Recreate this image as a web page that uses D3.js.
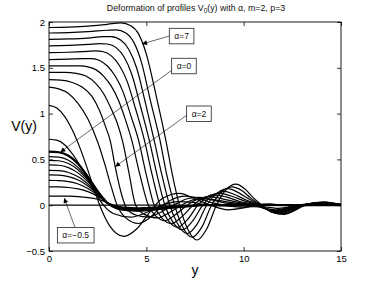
<!DOCTYPE html>
<html>
<head>
<meta charset="utf-8">
<script src="https://cdn.jsdelivr.net/npm/d3@7"></script>
<style>
html, body { margin: 0; padding: 0; background: #fff; }
svg { display: block; font-family: "Liberation Sans", Arial, Helvetica, sans-serif; }
.tick text { font-size: 9.5px; fill: #000; }
.tick line { stroke: #000; stroke-width: 0.8; }
.domain { display: none; }
</style>
</head>
<body>
<svg id="chart" width="377" height="283"></svg>
<script>
// ---- data ----
const xTicks = [0, 5, 10, 15];
const yTicks = [-0.5, 0, 0.5, 1, 1.5, 2];
const yTickLabels = ["\u22120.5", "0", "0.5", "1", "1.5", "2"];

// alpha <= 0 : bell shaped profiles, shared abscissae
const lowX = [0, 0.5, 1, 1.5, 2, 2.5, 2.75, 3, 3.5, 4, 4.5, 5, 6, 7, 8, 10, 12, 15];
const lowProfiles = [
    [0.10, 0.10, 0.098, 0.093, 0.083, 0.065, 0.05, 0.025, -0.01, -0.024, -0.028, -0.025, -0.015, -0.006, 0, 0.001, 0, 0],
    [0.20, 0.199, 0.193, 0.178, 0.148, 0.098, 0.064, 0.025, -0.018, -0.032, -0.036, -0.032, -0.02, -0.008, 0, 0.002, 0, 0],
    [0.27, 0.269, 0.258, 0.232, 0.183, 0.112, 0.07, 0.025, -0.022, -0.037, -0.041, -0.037, -0.023, -0.009, 0, 0.002, 0, 0],
    [0.33, 0.328, 0.312, 0.275, 0.21, 0.122, 0.074, 0.025, -0.025, -0.041, -0.045, -0.041, -0.026, -0.01, 0, 0.002, 0, 0],
    [0.38, 0.377, 0.357, 0.31, 0.23, 0.13, 0.077, 0.025, -0.027, -0.044, -0.048, -0.044, -0.028, -0.011, 0, 0.003, 0, 0],
    [0.44, 0.436, 0.41, 0.35, 0.255, 0.14, 0.08, 0.025, -0.029, -0.047, -0.051, -0.047, -0.03, -0.012, 0, 0.003, 0, 0],
    [0.49, 0.485, 0.455, 0.385, 0.275, 0.145, 0.082, 0.025, -0.031, -0.05, -0.054, -0.05, -0.031, -0.013, 0, 0.003, 0, 0],
    [0.53, 0.524, 0.49, 0.41, 0.29, 0.15, 0.083, 0.025, -0.033, -0.052, -0.057, -0.052, -0.033, -0.014, 0, 0.004, 0, 0],
    [0.585, 0.578, 0.54, 0.45, 0.31, 0.155, 0.085, 0.025, -0.035, -0.055, -0.06, -0.055, -0.035, -0.015, 0, 0.004, 0, 0]
];
const boldLow = 8; // alpha = 0 drawn heavier

const zeroProfile = [[0, 0], [15, 0]];

// small alpha > 0 profiles
const midProfiles = [
    [[0, 0.72], [0.4, 0.71], [0.8, 0.66], [1.2, 0.56], [1.6, 0.43], [2.0, 0.28], [2.4, 0.13], [2.8, 0.0], [3.3, -0.09], [4.2, -0.13],
     [5.0, -0.08], [5.8, 0], [6.6, 0.04], [7.4, 0.03], [8.2, 0], [9.5, -0.01], [11, 0], [15, 0]],
    [[0, 1.09], [0.4, 1.06], [0.8, 0.97], [1.2, 0.82], [1.6, 0.62], [2.0, 0.38], [2.4, 0.12], [2.7, -0.05], [3.1, -0.22], [3.85, -0.34],
     [4.5, -0.26], [5.2, -0.07], [5.8, 0.07], [6.7, 0.13], [7.5, 0.07], [8.3, 0], [9.2, -0.05], [10.0, -0.03], [10.6, 0], [11.3, 0.015],
     [12.0, 0], [12.8, -0.008], [13.5, 0], [15, 0]]
];

// flat-topped profiles, alpha up to 7
const highProfiles = [
    [[0, 1.29], [0.5, 1.27], [1.0, 1.22], [1.5, 1.11], [2.0, 0.94], [2.5, 0.69], [2.85, 0.46], [3.2, 0.2], [3.5, 0.0], [3.9, -0.13],
     [4.6, -0.2], [5.1, -0.15], [5.7, -0.03], [6.3, 0.06], [7.0, 0.1], [7.6, 0.08], [8.3, 0.03], [9.0, 0], [9.8, -0.02], [10.5, -0.015],
     [11.2, -0.02], [11.7, -0.035], [12.3, -0.02], [12.8, 0], [13.5, 0.01], [14.2, 0.012], [15, 0.004]],
    [[0, 1.37], [0.6, 1.365], [1.2, 1.34], [1.7, 1.29], [2.2, 1.19], [2.6, 1.03], [2.9, 0.86], [3.15, 0.7], [3.4, 0.42], [3.75, 0.1],
     [4.0, -0.04], [4.5, -0.11], [5.1, -0.13], [5.6, -0.09], [6.4, 0], [7.1, 0.07], [7.7, 0.085], [8.3, 0.06], [9.2, 0.02], [10.5, 0],
     [11.1, -0.035], [11.65, -0.05], [12.2, -0.03], [12.8, 0], [13.4, 0.012], [13.9, 0.018], [14.7, 0.008], [15, 0.004]],
    [[0, 1.45], [0.8, 1.45], [1.4, 1.44], [1.9, 1.41], [2.4, 1.33], [2.8, 1.22], [3.2, 1.05], [3.5, 0.9], [3.8, 0.68], [4.1, 0.36],
     [4.45, 0], [4.9, -0.1], [5.6, -0.14], [6.1, -0.09], [6.8, 0], [7.45, 0.06], [8.0, 0.07], [8.6, 0.055], [9.5, 0.025], [10.6, 0],
     [11.15, -0.04], [11.7, -0.06], [12.25, -0.035], [12.85, 0], [13.4, 0.014], [13.95, 0.02], [14.7, 0.009], [15, 0.004]],
    [[0, 1.52], [1, 1.52], [1.6, 1.52], [2.0, 1.51], [2.4, 1.48], [2.8, 1.41], [3.2, 1.3], [3.6, 1.13], [3.9, 0.95], [4.25, 0.71],
     [4.65, 0.35], [5.1, 0], [5.5, -0.12], [5.95, -0.17], [6.45, -0.11], [7.1, 0], [7.75, 0.075], [8.3, 0.09], [8.9, 0.07], [9.7, 0.03],
     [10.65, 0], [11.2, -0.045], [11.75, -0.065], [12.3, -0.04], [12.9, 0], [13.45, 0.016], [14.0, 0.022], [14.7, 0.01], [15, 0.005]],
    [[0, 1.59], [1, 1.595], [1.8, 1.6], [2.2, 1.6], [2.6, 1.58], [3.0, 1.52], [3.4, 1.41], [3.8, 1.24], [4.2, 0.98], [4.6, 0.71],
     [5.0, 0.33], [5.4, 0], [5.8, -0.14], [6.3, -0.2], [6.8, -0.13], [7.4, 0], [8.05, 0.09], [8.55, 0.11], [9.1, 0.09], [9.8, 0.04],
     [10.7, 0], [11.25, -0.05], [11.8, -0.07], [12.35, -0.04], [12.95, 0], [13.5, 0.018], [14.0, 0.024], [14.7, 0.012], [15, 0.006]],
    [[0, 1.665], [1, 1.67], [2, 1.68], [2.4, 1.685], [2.8, 1.675], [3.2, 1.63], [3.6, 1.53], [4.0, 1.36], [4.45, 1.05], [4.9, 0.71],
     [5.3, 0.33], [5.7, 0], [6.1, -0.16], [6.6, -0.24], [7.1, -0.16], [7.65, 0], [8.3, 0.11], [8.8, 0.13], [9.35, 0.1], [10.0, 0.05],
     [10.75, 0], [11.3, -0.055], [11.85, -0.075], [12.4, -0.045], [13.0, 0], [13.55, 0.02], [14.05, 0.026], [14.7, 0.014], [15, 0.007]],
    [[0, 1.74], [1, 1.745], [2, 1.755], [2.6, 1.765], [3.0, 1.76], [3.45, 1.72], [3.85, 1.62], [4.25, 1.43], [4.7, 1.08], [5.15, 0.71],
     [5.55, 0.33], [5.95, 0], [6.35, -0.18], [6.85, -0.27], [7.35, -0.18], [7.9, 0], [8.5, 0.12], [9.0, 0.15], [9.5, 0.12], [10.1, 0.06],
     [10.8, 0], [11.35, -0.06], [11.9, -0.08], [12.45, -0.05], [13.05, 0], [13.6, 0.022], [14.1, 0.028], [14.7, 0.015], [15, 0.008]],
    [[0, 1.81], [1, 1.815], [2, 1.825], [2.8, 1.84], [3.2, 1.84], [3.7, 1.8], [4.1, 1.7], [4.5, 1.5], [4.95, 1.12], [5.4, 0.71],
     [5.8, 0.33], [6.2, 0], [6.6, -0.2], [7.1, -0.31], [7.6, -0.21], [8.1, 0], [8.7, 0.14], [9.2, 0.18], [9.7, 0.14], [10.25, 0.07],
     [10.85, 0], [11.4, -0.07], [11.95, -0.09], [12.5, -0.055], [13.1, 0], [13.6, 0.024], [14.1, 0.03], [14.7, 0.016], [15, 0.008]],
    [[0, 1.88], [1, 1.885], [2, 1.895], [3, 1.91], [3.45, 1.915], [3.95, 1.88], [4.35, 1.78], [4.75, 1.56], [5.2, 1.15], [5.7, 0.71],
     [6.05, 0.33], [6.45, 0], [6.85, -0.23], [7.35, -0.35], [7.85, -0.24], [8.35, 0], [8.9, 0.15], [9.4, 0.2], [9.9, 0.16], [10.35, 0.08],
     [10.9, 0], [11.45, -0.075], [12.0, -0.095], [12.55, -0.06], [13.1, 0], [13.65, 0.026], [14.15, 0.033], [14.7, 0.018], [15, 0.01]],
    [[0, 1.94], [1, 1.945], [2, 1.955], [3, 1.975], [3.7, 1.99], [4.2, 1.96], [4.6, 1.87], [5.0, 1.65], [5.5, 1.2], [6.0, 0.71],
     [6.35, 0.32], [6.7, 0], [7.1, -0.25], [7.6, -0.38], [8.1, -0.26], [8.6, 0], [9.1, 0.17], [9.6, 0.23], [10.1, 0.17], [10.5, 0.08],
     [10.95, 0], [11.5, -0.08], [12.1, -0.1], [12.6, -0.06], [13.15, 0], [13.7, 0.028], [14.2, 0.035], [14.7, 0.02], [15, 0.01]]
];

// annotations: label, box top-left, arrow start, arrow tip (data units)
const noteText = ["\u03b1=7", "\u03b1=0", "\u03b1=2", "\u03b1=\u22120.5"];
const noteBox = [[6.18, 1.931], [6.30, 1.604], [7.07, 1.083], [0.43, -0.243]];
const noteFrom = [[6.18, 1.847], [6.32, 1.476], [7.09, 0.985], [1.335, -0.243]];
const noteTip = [[4.78, 1.76], [0.58, 0.578], [3.40, 0.42], [0.78, 0.078]];

// ---- drawing ----
const W = 377, H = 283;
const m = { l: 49, r: 36, t: 22, b: 32 };
const svg = d3.select("#chart");

const x = d3.scaleLinear().domain([0, 15]).range([m.l, W - m.r]);
const y = d3.scaleLinear().domain([-0.5, 2]).range([H - m.b, m.t]);

svg.append("text").attr("x", 196).attr("y", 11).attr("text-anchor", "middle")
    .attr("font-size", 8.8).attr("fill", "#111")
    .call(t => {
        t.append("tspan").text("Deformation of profiles V");
        t.append("tspan").attr("font-size", 6.5).attr("dy", 2).text("0");
        t.append("tspan").attr("dy", -2).text("(y) with \u03b1, m=2, p=3");
    });

const clipId = "plotclip";
svg.append("clipPath").attr("id", clipId).append("rect")
    .attr("x", m.l).attr("y", m.t).attr("width", W - m.l - m.r).attr("height", H - m.t - m.b);

const line = d3.line().x(d => x(d[0])).y(d => y(d[1])).curve(d3.curveMonotoneX);
const plot = svg.append("g").attr("clip-path", `url(#${clipId})`);

const lowPts = lowProfiles.map(vs => vs.map((v, i) => [lowX[i], v]));
const all = [zeroProfile].concat(lowPts, midProfiles, highProfiles);
plot.selectAll("path.prof").data(all).join("path")
    .attr("class", "prof")
    .attr("d", line)
    .attr("fill", "none")
    .attr("stroke", "#000")
    .attr("stroke-width", 1.2);
plot.append("path").datum(lowPts[boldLow]).attr("d", line)
    .attr("fill", "none").attr("stroke", "#000").attr("stroke-width", 2.1);

// axes, ticks pointing inward on every side
const tk = 4;
svg.append("g").attr("transform", `translate(0,${H - m.b})`)
    .call(d3.axisBottom(x).tickValues(xTicks).tickSize(-tk).tickPadding(4).tickFormat(d3.format("d")));
svg.append("g").attr("transform", `translate(0,${m.t})`)
    .call(d3.axisTop(x).tickValues(xTicks).tickSize(-tk).tickFormat(""));
svg.append("g").attr("transform", `translate(${m.l},0)`)
    .call(d3.axisLeft(y).tickValues(yTicks).tickSize(-tk).tickPadding(4)
        .tickFormat((d, i) => yTickLabels[i]));
svg.append("g").attr("transform", `translate(${W - m.r},0)`)
    .call(d3.axisRight(y).tickValues(yTicks).tickSize(-tk).tickFormat(""));
svg.append("rect").attr("x", m.l).attr("y", m.t)
    .attr("width", W - m.l - m.r).attr("height", H - m.t - m.b)
    .attr("fill", "none").attr("stroke", "#000").attr("stroke-width", 0.9);

svg.append("text").attr("x", 24).attr("y", 131).attr("text-anchor", "middle")
    .attr("font-size", 14).text("V(y)");
svg.append("text").attr("x", x(7.5)).attr("y", 275).attr("text-anchor", "middle")
    .attr("font-size", 14).text("y");

// annotations
svg.append("defs").append("marker").attr("id", "ah")
    .attr("viewBox", "0 0 10 10").attr("refX", 10).attr("refY", 5)
    .attr("markerWidth", 6).attr("markerHeight", 5).attr("markerUnits", "userSpaceOnUse")
    .attr("orient", "auto")
    .append("path").attr("d", "M0,0 L10,5 L0,10 Z").attr("fill", "#000");

const notes = svg.append("g");
noteText.forEach((txt, i) => {
    notes.append("line")
        .attr("x1", x(noteFrom[i][0])).attr("y1", y(noteFrom[i][1]))
        .attr("x2", x(noteTip[i][0])).attr("y2", y(noteTip[i][1]))
        .attr("stroke", "#000").attr("stroke-width", 0.6).attr("marker-end", "url(#ah)");
    const g = notes.append("g");
    const bx = x(noteBox[i][0]), by = y(noteBox[i][1]);
    const r = g.append("rect").attr("x", bx).attr("y", by).attr("height", 15.5)
        .attr("fill", "#fff").attr("stroke", "#222").attr("stroke-width", 0.8);
    const t = g.append("text").attr("x", bx + 5).attr("y", by + 11)
        .attr("font-size", 8.5).attr("fill", "#111").text(txt);
    r.attr("width", t.node().getComputedTextLength() + 10);
});
</script>
</body>
</html>
